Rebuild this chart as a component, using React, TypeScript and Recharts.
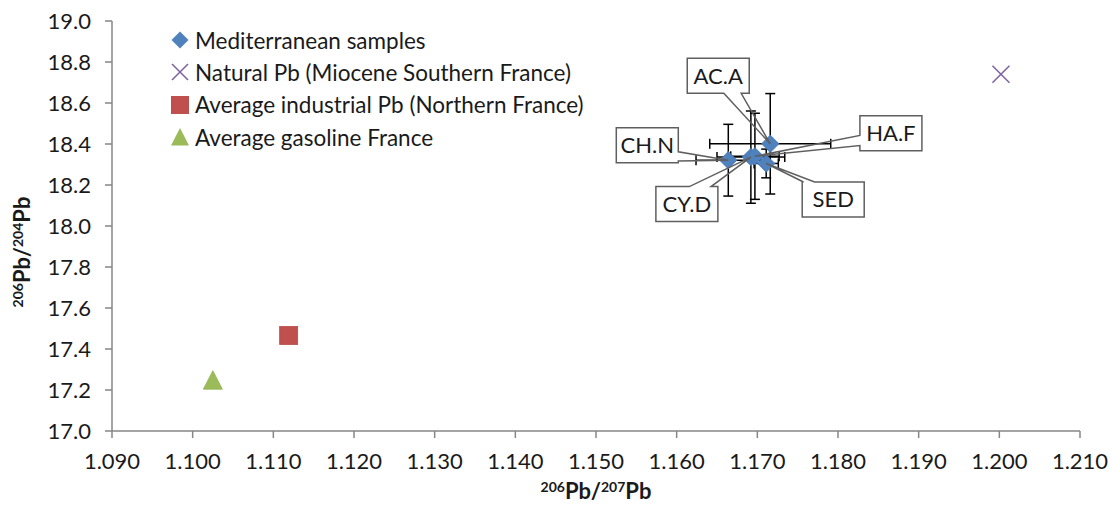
import React from 'react';
import { ScatterChart, Scatter, XAxis, YAxis, ErrorBar, Legend, Label } from 'recharts';

const FONT = 'Lato, "Open Sans", sans-serif';

// Mediterranean samples (206Pb/207Pb, 206Pb/204Pb) with 2s errors
const medNames = ['CH.N', 'CY.D', 'HA.F', 'AC.A', 'SED'];
const medX = [1.1664, 1.1692, 1.1697, 1.1716, 1.1711];
const medY = [18.321, 18.336, 18.34, 18.401, 18.305];
const medErrX = [0.004, 0.0042, 0.003, 0.0075, 0.0015];
const medErrY = [0.175, 0.225, 0.21, 0.245, 0.07];

const naturalX = [1.2002];
const naturalY = [18.74];
const industrialX = [1.1119];
const industrialY = [17.466];
const gasolineX = [1.1025];
const gasolineY = [17.248];

const xTicks = [1.09, 1.1, 1.11, 1.12, 1.13, 1.14, 1.15, 1.16, 1.17, 1.18, 1.19, 1.2, 1.21];
const yTicks = [17.0, 17.2, 17.4, 17.6, 17.8, 18.0, 18.2, 18.4, 18.6, 18.8, 19.0];

const medData = medNames.map((name, i) => ({
  name,
  x: medX[i],
  y: medY[i],
  errX: medErrX[i],
  errY: medErrY[i],
}));
const toPoints = (xs: number[], ys: number[]) => xs.map((x, i) => ({ x, y: ys[i] }));

const COLORS = {
  med: '#4F81BD',
  natural: '#8064A2',
  industrial: '#C0504D',
  gasoline: '#9BBB59',
  axis: '#868686',
  text: '#1a1a1a',
  callout: '#5f5f5f',
};

// callout box placement relative to its point (px), and where the pointer leaves the box
const callouts: Record<string, { dx: number; dy: number; side: string; f: [number, number] }> = {
  'CH.N': { dx: -81, dy: -15, side: 'right', f: [0.69, 0.95] },
  'CY.D': { dx: -64, dy: 47, side: 'top', f: [0.54, 0.89] },
  'HA.F': { dx: 136, dy: -23, side: 'left', f: [0.56, 0.85] },
  'AC.A': { dx: -52, dy: -68, side: 'bottom', f: [0.59, 0.87] },
  SED: { dx: 67, dy: 36, side: 'top', f: [0.02, 0.2] },
};
const BOX_W = 62;
const BOX_H = 35;

const diamondPts = (cx: number, cy: number, r: number) =>
  `${cx},${cy - r} ${cx + r},${cy} ${cx},${cy + r} ${cx - r},${cy}`;
const trianglePts = (cx: number, cy: number, r: number) =>
  `${cx},${cy - r} ${cx + r},${cy + r * 0.95} ${cx - r},${cy + r * 0.95}`;

const DiamondShape = (p: any) => (
  <polygon points={diamondPts(p.cx, p.cy, 8.7)} fill={COLORS.med} stroke="#4a7ab5" strokeWidth={0.8} />
);
const CrossShape = (p: any) => (
  <g stroke={COLORS.natural} strokeWidth={1.6}>
    <line x1={p.cx - 8.5} y1={p.cy - 8.5} x2={p.cx + 8.5} y2={p.cy + 8.5} />
    <line x1={p.cx - 8.5} y1={p.cy + 8.5} x2={p.cx + 8.5} y2={p.cy - 8.5} />
  </g>
);
const SquareShape = (p: any) => (
  <rect x={p.cx - 9} y={p.cy - 9} width={18} height={18} fill={COLORS.industrial} stroke="#b84b48" strokeWidth={0.8} />
);
const TriangleShape = (p: any) => (
  <polygon points={trianglePts(p.cx, p.cy, 9.5)} fill={COLORS.gasoline} stroke="#93b154" strokeWidth={0.8} />
);

const CalloutShape = (p: any) => {
  const { cx, cy, payload } = p;
  const c = callouts[payload.name];
  if (!c) return null;
  const L = cx + c.dx - BOX_W / 2;
  const T = cy + c.dy - BOX_H / 2;
  const R = L + BOX_W;
  const B = T + BOX_H;
  const [f1, f2] = c.f;
  const tip = `L${cx},${cy}`;
  let d = `M${L},${T}`;
  if (c.side === 'top') d += ` L${L + f1 * BOX_W},${T} ${tip} L${L + f2 * BOX_W},${T}`;
  d += ` L${R},${T}`;
  if (c.side === 'right') d += ` L${R},${T + f1 * BOX_H} ${tip} L${R},${T + f2 * BOX_H}`;
  d += ` L${R},${B}`;
  if (c.side === 'bottom') d += ` L${L + f2 * BOX_W},${B} ${tip} L${L + f1 * BOX_W},${B}`;
  d += ` L${L},${B}`;
  if (c.side === 'left') d += ` L${L},${T + f2 * BOX_H} ${tip} L${L},${T + f1 * BOX_H}`;
  d += ' Z';
  return (
    <g>
      <rect x={L} y={T} width={BOX_W} height={BOX_H} fill="#fff" />
      <path d={d} fill="none" stroke={COLORS.callout} strokeWidth={1.5} strokeLinejoin="miter" />
      <text
        x={L + BOX_W / 2}
        y={T + BOX_H / 2}
        dy="0.36em"
        textAnchor="middle"
        fontFamily={FONT}
        fontSize={22}
        fill={COLORS.text}
      >
        {payload.name}
      </text>
    </g>
  );
};

const legendItems = [
  { label: 'Mediterranean samples', icon: 'diamond' },
  { label: 'Natural Pb (Miocene Southern France)', icon: 'cross' },
  { label: 'Average industrial Pb (Northern France)', icon: 'square' },
  { label: 'Average gasoline France', icon: 'triangle' },
];

const LegendIcon = ({ icon }: { icon: string }) => (
  <svg width={20} height={20} style={{ display: 'block' }}>
    {icon === 'diamond' && <polygon points={diamondPts(10, 10, 8.5)} fill={COLORS.med} />}
    {icon === 'cross' && (
      <g stroke={COLORS.natural} strokeWidth={1.6}>
        <line x1={2} y1={2} x2={18} y2={18} />
        <line x1={2} y1={18} x2={18} y2={2} />
      </g>
    )}
    {icon === 'square' && <rect x={1} y={1} width={18} height={18} fill={COLORS.industrial} />}
    {icon === 'triangle' && <polygon points={trianglePts(10, 10, 9)} fill={COLORS.gasoline} />}
  </svg>
);

const LegendBox = () => (
  <div style={{ fontFamily: FONT, fontSize: 22.5, color: COLORS.text }}>
    {legendItems.map((it) => (
      <div key={it.label} style={{ display: 'flex', alignItems: 'center', height: 32.3 }}>
        <LegendIcon icon={it.icon} />
        <span style={{ marginLeft: 5, whiteSpace: 'nowrap' }}>{it.label}</span>
      </div>
    ))}
  </div>
);

const AxisTitle = ({ x, y, a, b, rotate }: { x: number; y: number; a: string; b: string; rotate?: boolean }) => (
  <text
    x={x}
    y={y}
    textAnchor="middle"
    fontFamily={FONT}
    fontWeight="bold"
    fontSize={22}
    fill={COLORS.text}
    transform={rotate ? `rotate(-90 ${x} ${y})` : undefined}
  >
    <tspan fontSize={14} dy={-7}>{a}</tspan>
    <tspan dy={7}>Pb/</tspan>
    <tspan fontSize={14} dy={-7}>{b}</tspan>
    <tspan dy={7}>Pb</tspan>
  </text>
);

const tickStyle = { fontFamily: FONT, fontSize: 22, fill: COLORS.text };

export default function App() {
  return (
    <div style={{ position: 'absolute', left: 0, top: 0, background: '#fff' }}>
      <ScatterChart width={1110} height={505} margin={{ top: 21, right: 30, bottom: 14, left: 0 }}>
        <XAxis
          type="number"
          dataKey="x"
          domain={[1.09, 1.21]}
          ticks={xTicks}
          allowDataOverflow
          tickFormatter={(v: number) => v.toFixed(3)}
          height={60}
          tick={tickStyle}
          tickSize={7}
          tickMargin={15}
          interval={0}
          stroke={COLORS.axis}
          strokeWidth={1.5}
        >
          <Label
            content={(p: any) => (
              <AxisTitle x={p.viewBox.x + p.viewBox.width / 2} y={p.viewBox.y + 68} a="206" b="207" />
            )}
          />
        </XAxis>
        <YAxis
          type="number"
          dataKey="y"
          domain={[17, 19]}
          ticks={yTicks}
          allowDataOverflow
          tickFormatter={(v: number) => v.toFixed(1)}
          width={112}
          tick={tickStyle}
          tickSize={7}
          tickMargin={14}
          interval={0}
          stroke={COLORS.axis}
          strokeWidth={1.5}
        >
          <Label
            content={(p: any) => (
              <AxisTitle x={30} y={p.viewBox.y + p.viewBox.height / 2 + 26} a="206" b="204" rotate />
            )}
          />
        </YAxis>
        <Legend
          content={() => <LegendBox />}
          layout="vertical"
          align="center"
          verticalAlign="middle"
          wrapperStyle={{ left: 170, top: 24, width: 'auto' }}
        />
        <Scatter name="Mediterranean samples" data={medData} shape={DiamondShape} isAnimationActive={false}>
          <ErrorBar dataKey="errY" direction="y" width={5} stroke="#000" strokeWidth={1.5} />
          <ErrorBar dataKey="errX" direction="x" width={5} stroke="#000" strokeWidth={1.5} />
        </Scatter>
        <Scatter
          name="Natural Pb (Miocene Southern France)"
          data={toPoints(naturalX, naturalY)}
          shape={CrossShape}
          isAnimationActive={false}
        />
        <Scatter
          name="Average industrial Pb (Northern France)"
          data={toPoints(industrialX, industrialY)}
          shape={SquareShape}
          isAnimationActive={false}
        />
        <Scatter
          name="Average gasoline France"
          data={toPoints(gasolineX, gasolineY)}
          shape={TriangleShape}
          isAnimationActive={false}
        />
        <Scatter
          name="labels"
          data={medData}
          shape={CalloutShape}
          legendType="none"
          isAnimationActive={false}
        />
      </ScatterChart>
    </div>
  );
}
